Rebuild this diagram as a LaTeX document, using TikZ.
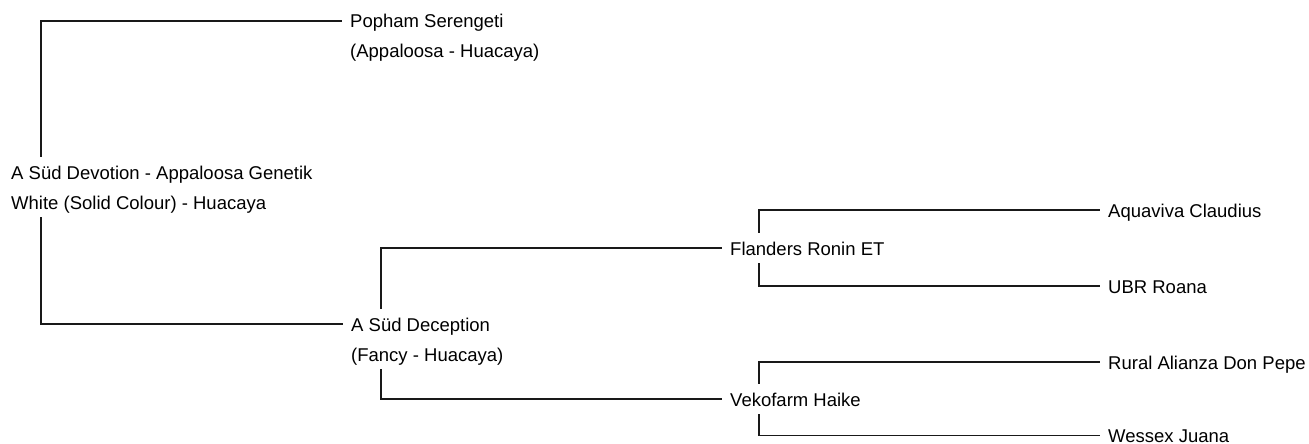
\documentclass[tikz,border=0pt]{standalone}
\usepackage{fontspec}
\setmainfont{Liberation Sans}
\begin{document}
\begin{tikzpicture}[x=1pt,y=-1pt,
  lbl/.style={anchor=west,inner xsep=8pt,inner ysep=0pt,text height=22pt,text depth=8pt,
    font=\fontsize{18.5}{22}\selectfont,text=black},
  conn/.style={draw=black!90,line width=1.2pt}]
\fill[white] (0,0) rectangle (1309,444);
\useasboundingbox (0,0) rectangle (1309,444);
\coordinate (x0) at (41,0);
\coordinate (x1) at (381,0);
\coordinate (x2) at (759,0);
% nodes
\node[lbl] (popham)  at (342,21)  {Popham Serengeti};
\node[lbl] (popham2) at (342,51)  {(Appaloosa - Huacaya)};
\node[lbl] (root)    at (3,172)   {A Süd Devotion - Appaloosa Genetik};
\node[lbl] (root2)   at (3,202)   {White (Solid Colour) - Huacaya};
\node[lbl] (decep)   at (343,324) {A Süd Deception};
\node[lbl] (decep2)  at (343,354) {(Fancy - Huacaya)};
\node[lbl] (flanders) at (722,248) {Flanders Ronin ET};
\node[lbl] (veko)    at (722,399) {Vekofarm Haike};
\node[lbl] (aqua)    at (1100,210) {Aquaviva Claudius};
\node[lbl] (ubr)     at (1100,286) {UBR Roana};
\node[lbl] (rural)   at (1100,362) {Rural Alianza Don Pepe};
\node[lbl] (wessex)  at (1100,435.5) {Wessex Juana};
% connectors
\draw[conn] (root.north -| x0) |- (popham.west);
\draw[conn] (root2.south -| x0) |- (decep.west);
\draw[conn] (decep.north -| x1) |- (flanders.west);
\draw[conn] (decep2.south -| x1) |- (veko.west);
\draw[conn] (flanders.north -| x2) |- (aqua.west);
\draw[conn] (flanders.south -| x2) |- (ubr.west);
\draw[conn] (veko.north -| x2) |- (rural.west);
\draw[conn] (veko.south -| x2) |- (wessex.west);
\end{tikzpicture}
\end{document}
